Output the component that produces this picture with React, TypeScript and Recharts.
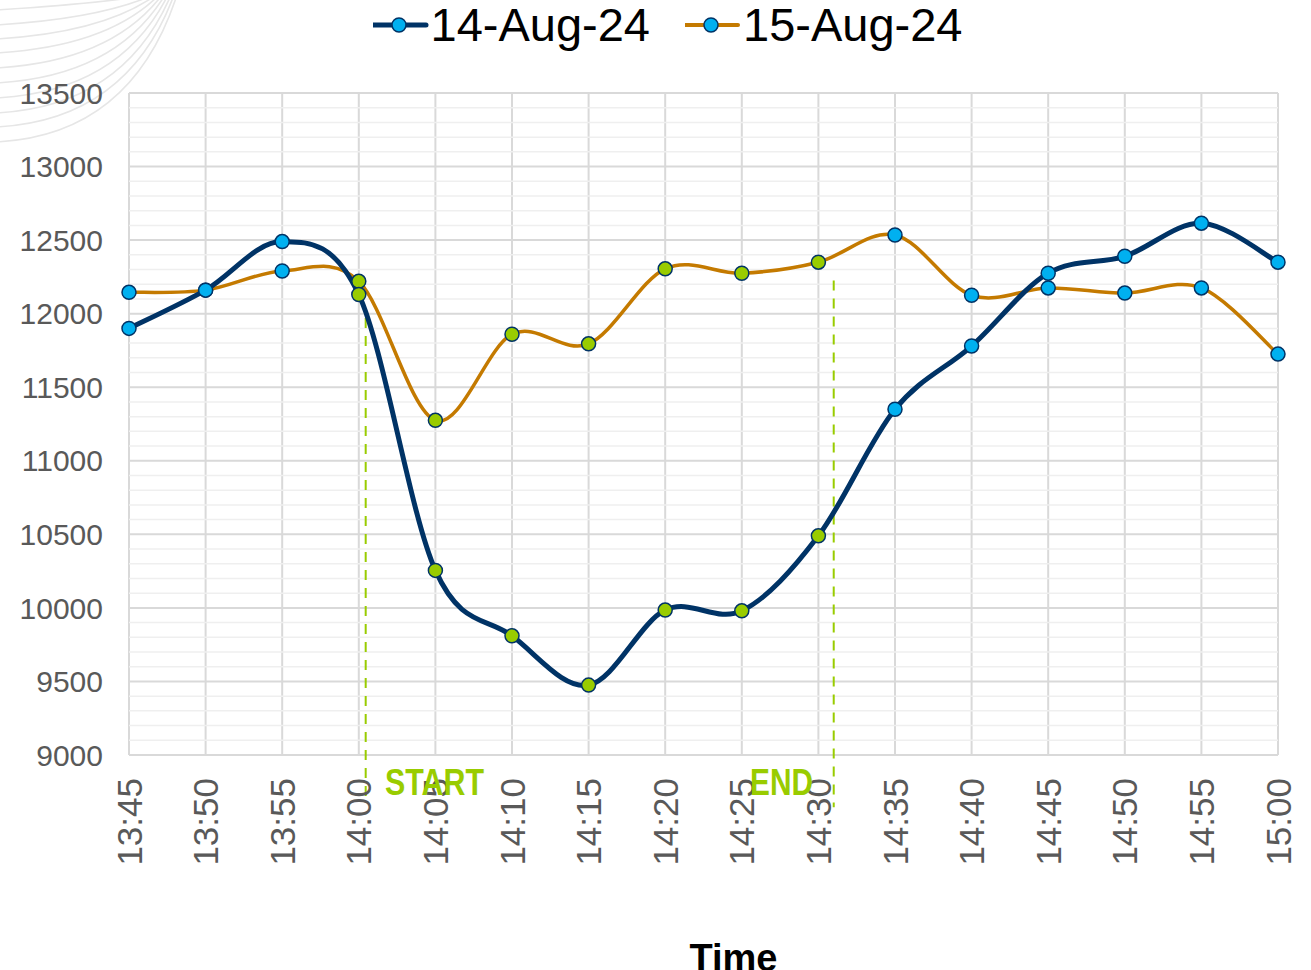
import React from 'react';
import { LineChart, Line, XAxis, YAxis, CartesianGrid, Legend, ReferenceLine } from 'recharts';

const times = ['13:45', '13:50', '13:55', '14:00', '14:05', '14:10', '14:15', '14:20', '14:25', '14:30', '14:35', '14:40', '14:45', '14:50', '14:55', '15:00'];
const aug14 = [11900, 12160, 12490, 12130, 10255, 9810, 9475, 9985, 9980, 10490, 11350, 11780, 12275, 12390, 12615, 12350];
const aug15 = [12145, 12160, 12290, 12220, 11275, 11860, 11795, 12305, 12275, 12350, 12535, 12125, 12175, 12140, 12175, 11725];
const yTicks = [9000, 9500, 10000, 10500, 11000, 11500, 12000, 12500, 13000, 13500];
// light lines every 100
const minorTicks = Array.from({ length: 46 }, (_, i) => 9000 + i * 100).filter(v => v % 500 !== 0);

// event window (points between these indices are drawn green)
const windowFrom = 3;
const windowTo = 9;
const startMarker = { pos: 3.09, top: 11970, bottom: 8720 };
const endMarker = { pos: 9.2, top: 12225, bottom: 8645 };

const data = times.map((t, i) => ({ time: t, idx: i, a: aug14[i], b: aug15[i] }));

const NAVY = '#003366';
const ORANGE = '#C47A00';
const BLUE_DOT = '#00B0F0';
const GREEN = '#99CC00';

// Excel-like smoothed line (catmull-rom style bezier)
const excelCurve = (context: any) => {
  let pts: number[][] = [];
  return {
    areaStart() {},
    areaEnd() {},
    lineStart() { pts = []; },
    point(x: number, y: number) { pts.push([+x, +y]); },
    lineEnd() {
      const n = pts.length;
      if (!n) return;
      context.moveTo(pts[0][0], pts[0][1]);
      const t = 1 / 6;
      for (let i = 0; i < n - 1; i++) {
        const p0 = pts[Math.max(i - 1, 0)];
        const p1 = pts[i];
        const p2 = pts[i + 1];
        const p3 = pts[Math.min(i + 2, n - 1)];
        context.bezierCurveTo(
          p1[0] + (p2[0] - p0[0]) * t, p1[1] + (p2[1] - p0[1]) * t,
          p2[0] - (p3[0] - p1[0]) * t, p2[1] - (p3[1] - p1[1]) * t,
          p2[0], p2[1]
        );
      }
    },
  };
};

const renderDot = (props: any) => {
  const { cx, cy, index } = props;
  const inWindow = index >= windowFrom && index <= windowTo;
  return (
    <circle key={`d-${props.dataKey}-${index}`} cx={cx} cy={cy} r={7} fill={inWindow ? GREEN : BLUE_DOT} stroke={NAVY} strokeWidth={1.5} />
  );
};

const XTick = (props: any) => {
  const { x, y, payload } = props;
  return (
    <text x={x} y={y} dy="0.36em" transform={`rotate(-90, ${x}, ${y})`} textAnchor="end" fontSize={35} fill="#595959" fontFamily="'Liberation Sans', Arial, sans-serif">
      {payload.value}
    </text>
  );
};

const legendItems = [
  { label: '14-Aug-24', color: NAVY, width: 5 },
  { label: '15-Aug-24', color: ORANGE, width: 4 },
];

const renderLegend = () => (
  <div style={{ height: 66, display: 'flex', justifyContent: 'center', paddingLeft: 24, fontFamily: "'Liberation Sans', Arial, sans-serif" }}>
    {legendItems.map((it, i) => (
      <div key={it.label} style={{ display: 'flex', alignItems: 'center', height: 56, marginTop: -3, marginLeft: i ? 35 : 0 }}>
        <svg width={56} height={20} style={{ display: 'block' }}>
          <line x1={0} y1={10} x2={53} y2={10} stroke={it.color} strokeWidth={it.width} strokeLinecap="round" />
          <circle cx={26} cy={10} r={7} fill={BLUE_DOT} stroke={NAVY} strokeWidth={1.5} />
        </svg>
        <span style={{ fontSize: 47, lineHeight: '56px', color: '#000', marginLeft: 2, whiteSpace: 'nowrap' }}>{it.label}</span>
      </div>
    ))}
  </div>
);

const TimeLabel = (props: any) => {
  const { viewBox } = props;
  return (
    <text x={viewBox.x + viewBox.width / 2 + 30} y={viewBox.y + viewBox.height + 1} textAnchor="middle" fontSize={38} fontWeight="bold" fill="#000" fontFamily="'Liberation Sans', Arial, sans-serif">
      Time
    </text>
  );
};

const swoosh = [10, 25, 39, 53, 68, 83, 98, 113, 127, 142];
const markerFont = "'Liberation Sans Narrow', 'Liberation Sans', Arial, sans-serif";

export default function App() {
  return (
    <div style={{ position: 'absolute', left: 0, top: 0, width: 1311, height: 970, background: '#fff', overflow: 'hidden' }}>
      <svg width={300} height={200} style={{ position: 'absolute', left: 0, top: 0 }}>
        {swoosh.map((y0, i) => (
          <path key={i} d={`M -5 ${y0} Q ${95 + i * 4} ${y0 - 6} ${150 + i * 3} -5`} fill="none" stroke="#E6E6E6" strokeWidth={1.6} />
        ))}
      </svg>
      <LineChart width={1311} height={970} data={data} margin={{ top: 27, right: 33, left: 0, bottom: 0 }}>
        {minorTicks.map(v => (
          <ReferenceLine key={`m-${v}`} y={v} stroke="#EFEFEF" strokeWidth={1.5} />
        ))}
        <CartesianGrid stroke="#D9D9D9" strokeWidth={2} />
        <XAxis
          dataKey="time"
          interval={0}
          axisLine={false}
          tickLine={false}
          height={215}
          tickMargin={17}
          tick={<XTick />}
          label={<TimeLabel />}
        />
        <XAxis xAxisId="pos" dataKey="idx" type="number" domain={[0, times.length - 1]} hide />
        <YAxis
          domain={[9000, 13500]}
          ticks={yTicks}
          interval={0}
          width={129}
          axisLine={false}
          tickLine={false}
          tickMargin={20}
          tick={{ fill: '#595959', fontSize: 30, fontFamily: "'Liberation Sans', Arial, sans-serif" }}
        />
        <Legend verticalAlign="top" content={renderLegend} wrapperStyle={{ top: 0, left: 0, width: 1311, height: 66 }} />
        {[startMarker, endMarker].map((m, i) => (
          <ReferenceLine
            key={i}
            xAxisId="pos"
            ifOverflow="visible"
            segment={[{ x: m.pos, y: m.top }, { x: m.pos, y: m.bottom }]}
            stroke={GREEN}
            strokeWidth={2}
            strokeDasharray="10 8"
          />
        ))}
        <Line dataKey="b" name="15-Aug-24" type={excelCurve as any} stroke={ORANGE} strokeWidth={3.5} dot={renderDot} isAnimationActive={false} />
        <Line dataKey="a" name="14-Aug-24" type={excelCurve as any} stroke={NAVY} strokeWidth={5} dot={renderDot} isAnimationActive={false} />
      </LineChart>
      <svg width={1311} height={970} style={{ position: 'absolute', left: 0, top: 0, pointerEvents: 'none' }}>
        <text x={385} y={795} fontSize={36} fontWeight="bold" fill={GREEN} fontFamily={markerFont} textLength={99} lengthAdjust="spacingAndGlyphs">START</text>
        <text x={750} y={795} fontSize={36} fontWeight="bold" fill={GREEN} fontFamily={markerFont} textLength={63} lengthAdjust="spacingAndGlyphs">END</text>
      </svg>
    </div>
  );
}
